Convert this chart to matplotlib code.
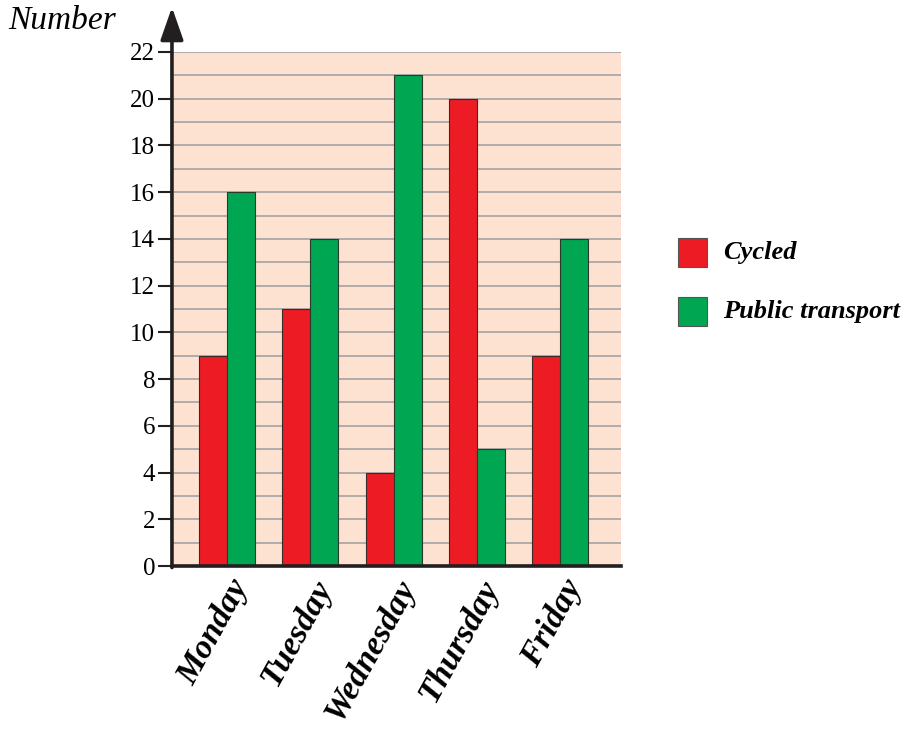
import matplotlib.pyplot as plt
from matplotlib.patches import Rectangle
import numpy as np

days = ['Monday', 'Tuesday', 'Wednesday', 'Thursday', 'Friday']
cycled = [9, 11, 4, 20, 9]
public_transport = [16, 14, 21, 5, 14]
y_ticks = list(range(0, 23, 2))

RED = '#ED1C24'
GREEN = '#00A651'
PEACH = '#FDE2D2'
GRID = '#A3A3A3'
INK = '#231f20'

plt.rcParams['font.family'] = ['Liberation Serif', 'DejaVu Serif']

fig = plt.figure(figsize=(9.06, 7.31), dpi=100)
ax = fig.add_axes([0.1898, 0.2257, 0.4956, 0.7032])

x = np.arange(len(days))
width = 0.336

ax.set_xlim(-0.66, 4.73)
ax.set_ylim(0, 22)
ax.set_facecolor(PEACH)

# one grey line per unit, labelled ticks every 2
for v in range(1, 23):
    ax.axhline(v, color=GRID, lw=1.2, zorder=1)

ax.bar(x - width / 2, cycled, width, color=RED, edgecolor='#3a2a2a', lw=0.8, zorder=2)
ax.bar(x + width / 2, public_transport, width, color=GREEN, edgecolor='#2a3a2a', lw=0.8, zorder=2)

for s in ['top', 'right', 'left']:
    ax.spines[s].set_visible(False)
ax.spines['bottom'].set_linewidth(2.6)
ax.spines['bottom'].set_color(INK)
ax.spines['bottom'].set_zorder(5)

# y axis drawn as an arrow running past the top
ax.annotate('', xy=(0, 1.087), xytext=(0, -0.003), xycoords='axes fraction',
            arrowprops=dict(arrowstyle='-|>,head_width=0.35,head_length=1.0', mutation_scale=20,
                            lw=2.6, color=INK, shrinkA=0, shrinkB=0),
            annotation_clip=False, zorder=6)

ax.set_yticks(y_ticks)
ax.set_yticklabels([str(t) for t in y_ticks], fontsize=18)
ax.tick_params(axis='y', length=10, width=1.5, direction='out', pad=2, color=INK)

ax.set_xticks(x + 0.02)
ax.set_xticklabels(days, rotation=61, ha='right', va='top', rotation_mode='anchor',
                   fontsize=24.5, fontweight='bold', fontstyle='italic')
ax.tick_params(axis='x', length=0, pad=6)

fig.text(0.009, 0.972, 'Number', fontsize=24, fontstyle='italic', va='center', ha='left')

# legend: coloured squares with bold italic labels
legend_items = [('Cycled', RED, 238), ('Public transport', GREEN, 297)]
for label, colour, top in legend_items:
    fig.patches.append(Rectangle((678 / 906, 1 - (top + 29) / 731), 29 / 906, 29 / 731,
                                 transform=fig.transFigure, facecolor=colour, edgecolor='#555555', lw=0.8))
    fig.text(723 / 906, 1 - (top + 14.5) / 731, label, fontsize=19, fontweight='bold',
             fontstyle='italic', va='center', ha='left')

fig.savefig('out.png', dpi=100)
